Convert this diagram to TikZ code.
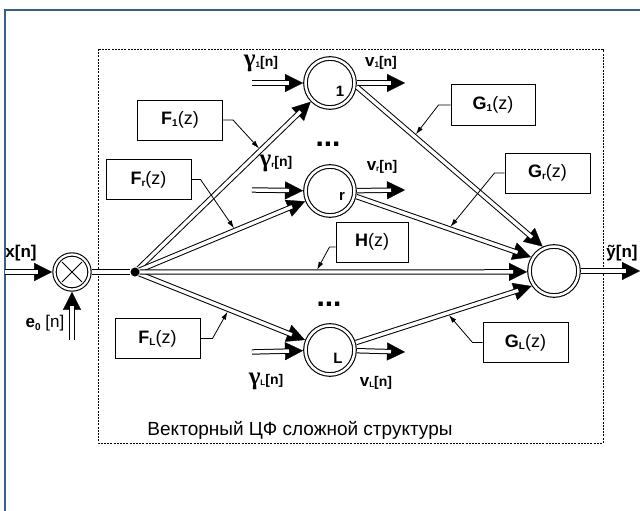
\documentclass[tikz,border=0pt]{standalone}
\usepackage{fontspec}
\setmainfont{Liberation Sans}
\newfontfamily\grk{Liberation Serif}
\usetikzlibrary{arrows.meta}
\definecolor{framec}{RGB}{55,95,135}
\newcommand\fs[1]{\fontsize{#1}{#1}\selectfont}
\newcommand\gam[1]{{\grk\fs{25}\bfseries γ}\raisebox{-1pt}{\fs{8}\bfseries #1}{\fs{14}\bfseries[n]}}
\newcommand\vv[1]{{\fs{17}\bfseries v}\raisebox{-1pt}{\fs{8}\bfseries #1}{\fs{14}\bfseries[n]}}
\newcommand\tf[2]{{\bfseries #1}\raisebox{-2pt}{\fs{10}\bfseries #2}(z)}
\begin{document}
\begin{tikzpicture}[x=1pt,y=-1pt,
  dbl/.style={draw, double, double distance=3.4pt, line width=1pt},
  arr/.style={draw, line width=0.3pt, -{Triangle[length=18pt,width=18pt]},
              postaction={draw, double, double distance=3.4pt, line width=1pt, shorten >=14pt, -}},
  ptr/.style={line width=0.8pt, -{Latex[length=8pt,width=5pt]}, shorten >=2.5pt},
  sumnode/.style={circle, draw, double, double distance=2.5pt, line width=1.1pt, minimum size=49pt, inner sep=0pt, outer sep=2.5pt},
  mulnode/.style={circle, draw, double, double distance=2.2pt, line width=1.1pt, minimum size=35pt, inner sep=0pt, outer sep=2.3pt},
  tfbox/.style={draw, line width=1pt, minimum width=85pt, minimum height=40pt, inner sep=0pt, font=\fs{18}},
  lbl/.style={inner sep=0pt, font=\fs{17}},
  idxlbl/.style={inner sep=0pt, font=\fs{15}\bfseries},
  dots/.style={inner sep=0pt, anchor=base, font=\fs{30}\bfseries},
  framel/.style={draw=framec, line width=1.5pt},
  dbox/.style={draw, line width=0.8pt, dash pattern=on 2pt off 1.2pt}
]
\useasboundingbox (0,0) rectangle (640,511);
\fill[white] (0,0) rectangle (640,511);
\draw[framel] (5,511) -- (5,10) -- (640,10);
\draw[dbox] (98,49) rectangle (603,443);

% main nodes
\node[mulnode] (ox) at (72,272) {};
\draw[line width=1pt] ([shift={(45:14)}]ox.center) -- ([shift={(225:14)}]ox.center);
\draw[line width=1pt] ([shift={(135:14)}]ox.center) -- ([shift={(315:14)}]ox.center);
\node[circle, fill, minimum size=9pt, inner sep=0pt] (dot) at (135,272) {};
\node[sumnode] (n1) at (330,83) {};
\node[sumnode] (nr) at (330,191) {};
\node[sumnode] (nL) at (330,350) {};
\node[sumnode] (sum) at (554,271) {};
\node[idxlbl] (t1) at (340,91) {1};
\node[idxlbl] (tr) at (342,196) {r};
\node[idxlbl] (tL) at (338,358) {L};

% free ends
\coordinate (xin) at (5,272);
\coordinate (ein) at (72,340);
\coordinate (yout) at (640,271);
\coordinate (g1in) at (252,83);
\coordinate (grin) at (252,190);
\coordinate (gLin) at (252,352);
\coordinate (v1out) at (405,83);
\coordinate (vrout) at (405,190);
\coordinate (vLout) at (405,352);

% connectors
\draw[arr] (xin) -- (ox);
\draw[arr] (ein) -- (ox);
\draw[dbl] (ox) -- (dot);
\draw[arr] (dot) -- (n1);
\draw[arr] (dot) -- (nr);
\draw[arr] (dot) -- (nL);
\draw[arr] (dot) -- (sum.182);
\draw[arr] (g1in) -- (n1);
\draw[arr] (grin) -- (nr);
\draw[arr] (gLin) -- (nL);
\draw[arr] (n1) -- (v1out);
\draw[arr] (nr) -- (vrout);
\draw[arr] (nL) -- (vLout);
\draw[arr] (n1.-8) -- (sum.115);
\draw[arr] (nr.-12) -- (sum.149);
\draw[arr] (nL.16) -- (sum.214);
\draw[arr] (sum) -- (yout);

% points on connectors for the pointers
\path (dot) -- (n1) coordinate[pos=0.71] (pF1);
\path (dot) -- (nr) coordinate[pos=0.58] (pFr);
\path (dot) -- (nL) coordinate[pos=0.54] (pFL);
\path (dot) -- (sum.182) coordinate[pos=0.455] (pH);
\path (n1.-8) -- (sum.115) coordinate[pos=0.31] (pG1);
\path (nr.-12) -- (sum.149) coordinate[pos=0.53] (pGr);
\path (nL.16) -- (sum.214) coordinate[pos=0.52] (pGL);

% transfer function boxes
\node[tfbox] (F1) at (180,120) {\tf{F}{1}};
\node[tfbox] (Fr) at (148.5,179.5) {\tf{F}{r}};
\node[tfbox] (FL) at (157.5,338.5) {\tf{F}{L}};
\node[tfbox, minimum width=84pt] (G1) at (493,105) {\tf{G}{1}};
\node[tfbox] (Gr) at (547.5,173) {\tf{G}{r}};
\node[tfbox, minimum width=72pt] (H) at (372,242) {{\bfseries H}(z)};
\node[tfbox] (GL) at (525.5,342.5) {\tf{G}{L}};

\draw[ptr] (F1.east) -- ++(10,0) -- (pF1);
\draw[ptr] (Fr.east) -- ++(9,0) -- (pFr);
\draw[ptr] (FL.east) -- ++(12,0) -- (pFL);
\draw[ptr] ([yshift=-5pt]H.west) -- ++(-6,0) -- (pH);
\draw[ptr] (G1.west) -- ++(-12,0) -- (pG1);
\draw[ptr] (Gr.west) -- ++(-10,0) -- (pGr);
\draw[ptr] (GL.west) -- ++(-10,0) -- (pGL);

% labels
\node[lbl, font=\fs{17}\bfseries] (xl) at (21,253) {x[n]};
\node[lbl] (el) at (45,323) {{\bfseries e}\raisebox{-3pt}{\fs{10}\bfseries 0} [n]};
\node[lbl, font=\fs{17}\bfseries] (yl) at (622,253) {ỹ[n]};
\node[lbl] (g1l) at (261,63) {\gam{1}};
\node[lbl] (grl) at (276,163) {\gam{r}};
\node[lbl] (gLl) at (266,381) {\gam{L}};
\node[lbl] (v1l) at (381,63) {\vv{1}};
\node[lbl] (vrl) at (382,167) {\vv{r}};
\node[lbl] (vLl) at (376,383) {\vv{L}};
\node[dots] (d1) at (328,146) {...};
\node[dots] (d2) at (329,306) {...};
\node[lbl, font=\fs{19}] (title) at (300,430) {Векторный ЦФ сложной структуры};
\end{tikzpicture}
\end{document}
